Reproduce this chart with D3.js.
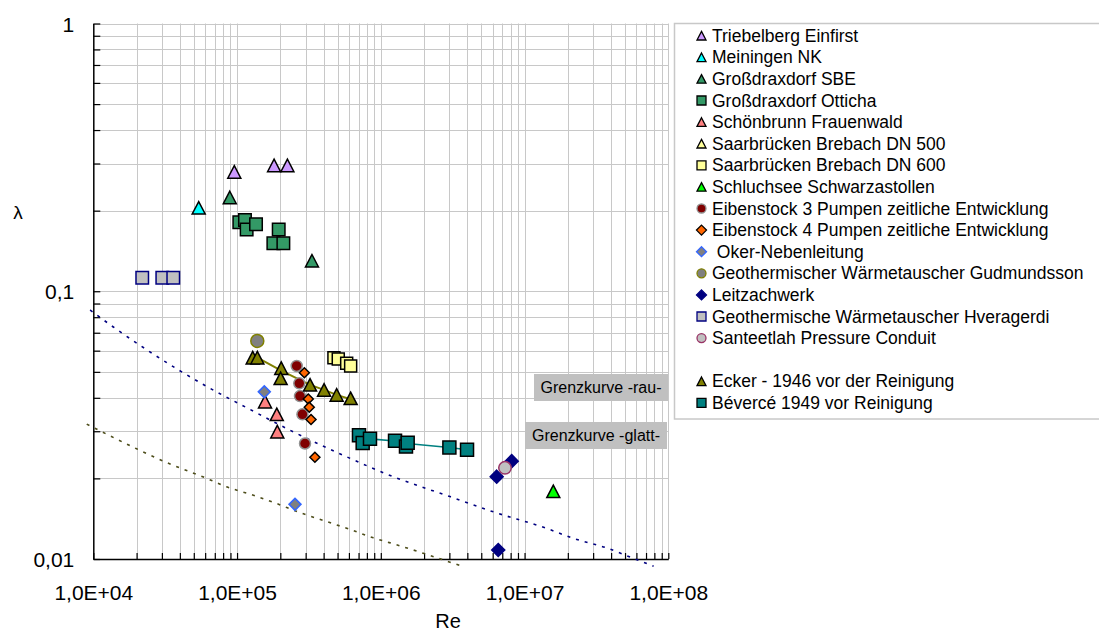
<!DOCTYPE html>
<html><head><meta charset="utf-8">
<script src="https://cdn.jsdelivr.net/npm/d3@7"></script>
<style>
body{margin:0;background:#fff}
svg{display:block;font-family:"Liberation Sans",Arial,sans-serif}
</style>
</head><body>
<svg id="chart" width="1099" height="634"></svg>
<script>
// ---------- data ----------
const xTickValues = [1e4, 1e5, 1e6, 1e7, 1e8];
const xTickLabels = ["1,0E+04", "1,0E+05", "1,0E+06", "1,0E+07", "1,0E+08"];
const yTickValues = [1, 0.1, 0.01];
const yTickLabels = ["1", "0,1", "0,01"];
const xTitle = "Re";
const yTitle = "λ";

const seriesNames = [
  "Triebelberg Einfirst", "Meiningen NK", "Großdraxdorf SBE", "Großdraxdorf Otticha",
  "Schönbrunn Frauenwald", "Saarbrücken Brebach DN 500", "Saarbrücken Brebach DN 600",
  "Schluchsee Schwarzastollen", "Eibenstock 3 Pumpen zeitliche Entwicklung",
  "Eibenstock 4 Pumpen zeitliche Entwicklung", " Oker-Nebenleitung",
  "Geothermischer Wärmetauscher Gudmundsson", "Leitzachwerk",
  "Geothermische Wärmetauscher Hveragerdi", "Santeetlah Pressure Conduit",
  "", "Ecker - 1946 vor der Reinigung", "Bévercé 1949 vor Reinigung"
];

// [Re, lambda]
const triebelberg = [[9.57e4, 0.279], [1.81e5, 0.295], [2.24e5, 0.295]];
const meiningen = [[5.41e4, 0.205]];
const sbe = [[8.9e4, 0.224], [3.32e5, 0.130]];
const otticha = [[1.037e5, 0.181], [1.135e5, 0.1845], [1.166e5, 0.170], [1.355e5, 0.178],
                 [1.789e5, 0.151], [1.949e5, 0.170], [2.10e5, 0.151]];
const schoenbrunn = [[1.565e5, 0.0387], [1.89e5, 0.0347], [1.905e5, 0.0299]];
const saar500 = [];
const saar600 = [[4.72e5, 0.0565], [5.06e5, 0.0558], [5.79e5, 0.0538], [6.17e5, 0.0526]];
const schluchsee = [[1.585e7, 0.0179]];
const eiben3 = [[2.6e5, 0.0526], [2.71e5, 0.0453], [2.74e5, 0.0406], [2.85e5, 0.0347], [2.97e5, 0.0270]];
const eiben4 = [[2.94e5, 0.0496], [3.13e5, 0.0396], [3.18e5, 0.0369], [3.27e5, 0.0332], [3.48e5, 0.0240]];
const oker = [[1.547e5, 0.0421], [2.53e5, 0.0160]];
const gudmundsson = [[1.383e5, 0.0652]];
const leitzach = [[6.4e6, 0.0203], [8.14e6, 0.0232], [6.56e6, 0.0108]];
const hveragerdi = [[2.19e4, 0.1124], [3.02e4, 0.1124], [3.60e4, 0.1124]];
const santeetlah = [[7.31e6, 0.0219]];
const ecker = [[1.285e5, 0.0565], [1.384e5, 0.0565], [2.03e5, 0.0516], [2.01e5, 0.0473],
               [3.22e5, 0.0447], [4.03e5, 0.0428], [4.93e5, 0.0410], [6.17e5, 0.0398]];
const eckerLine = [[1.384e5, 0.0565], [2.03e5, 0.0505], [3.22e5, 0.0447], [4.03e5, 0.0428],
                   [4.93e5, 0.0410], [6.17e5, 0.0395]];
const beverce = [[7.05e5, 0.0290], [7.48e5, 0.0271], [8.41e5, 0.0281], [1.256e6, 0.02765],
                 [1.497e6, 0.0263], [1.538e6, 0.0272], [3.0e6, 0.0261], [3.98e6, 0.0256]];
const beverceLine = [[8.41e5, 0.0281], [1.256e6, 0.0276], [1.52e6, 0.0270], [3.0e6, 0.0261], [3.98e6, 0.0256]];

// boundary curves
const curveBlue = [[9.5e3, 0.0851], [1.37e4, 0.0737], [1.82e4, 0.0663], [4.0e4, 0.0505],
  [6.49e4, 0.0434], [1.23e5, 0.0362], [2.33e5, 0.0303], [5.48e5, 0.0244], [1.22e6, 0.0203],
  [3.03e6, 0.0171], [6.07e6, 0.0150], [1.43e7, 0.0130], [2.18e7, 0.01195], [3.72e7, 0.0110],
  [5.71e7, 0.01006], [7.9e7, 0.0094]];
const curveOlive = [[9.0e3, 0.0319], [2.0e4, 0.0258], [3.07e4, 0.0232], [4.0e4, 0.0219],
  [6.15e4, 0.0200], [8.47e4, 0.0186], [1.3e5, 0.0173], [1.89e5, 0.0161], [2.74e5, 0.0149],
  [4.2e5, 0.0138], [6.1e5, 0.0129], [8.87e5, 0.0120], [1.36e6, 0.0112], [3.67e6, 0.0094]];

const boxLabels = ["Grenzkurve -rau-", "Grenzkurve -glatt-"];

// ---------- styles ----------
const seriesData = [triebelberg, meiningen, sbe, otticha, schoenbrunn, saar500, saar600, schluchsee,
  eiben3, eiben4, oker, gudmundsson, leitzach, hveragerdi, santeetlah, null, ecker, beverce];
const styles = [
  {shape: "tri", fill: "#CC99FF", stroke: "#000", size: 13},
  {shape: "tri", fill: "#00FFFF", stroke: "#000", size: 13},
  {shape: "tri", fill: "#339966", stroke: "#000", size: 13},
  {shape: "sq", fill: "#339966", stroke: "#000", size: 12.5},
  {shape: "tri", fill: "#FF8080", stroke: "#000", size: 13},
  {shape: "tri", fill: "#FFFF99", stroke: "#000", size: 13},
  {shape: "sq", fill: "#FFFF99", stroke: "#000", size: 12},
  {shape: "tri", fill: "#00FF00", stroke: "#000", size: 13},
  {shape: "circ", fill: "#800000", stroke: "#909090", size: 11},
  {shape: "dia", fill: "#FF6600", stroke: "#000", size: 10},
  {shape: "dia", fill: "#808080", stroke: "#3366FF", size: 12},
  {shape: "circ", fill: "#808080", stroke: "#808000", size: 13},
  {shape: "dia", fill: "#000080", stroke: "#000080", size: 13},
  {shape: "sq", fill: "#C0C0C0", stroke: "#000080", size: 12.5},
  {shape: "circ", fill: "#C0C0C0", stroke: "#993366", size: 12.5},
  null,
  {shape: "tri", fill: "#808000", stroke: "#000", size: 13},
  {shape: "sq", fill: "#008080", stroke: "#000", size: 13}
];

function markerPath(shape, s) {
  const h = s / 2;
  if (shape === "tri") { const hh = s * 0.48; return `M0,${-hh}L${h},${hh}L${-h},${hh}Z`; }
  if (shape === "sq") return `M${-h},${-h}H${h}V${h}H${-h}Z`;
  if (shape === "dia") return `M0,${-h}L${h},0L0,${h}L${-h},0Z`;
  return d3.arc()({innerRadius: 0, outerRadius: h, startAngle: 0, endAngle: 2 * Math.PI});
}

// ---------- chart ----------
const svg = d3.select("#chart");
const x = d3.scaleLog().domain([1e4, 1e8]).range([93.3, 668.3]);
const y = d3.scaleLog().domain([0.01, 1]).range([559, 23.5]);

const minorX = [], minorY = [];
for (let e = 4; e < 8; e++) for (let m = 1; m <= 9; m++) minorX.push(m * Math.pow(10, e));
minorX.push(1e8);
for (let e = -2; e < 0; e++) for (let m = 1; m <= 9; m++) minorY.push(m * Math.pow(10, e));
minorY.push(1);

// gridlines
const grid = svg.append("g").attr("stroke", "#c8c8c8").attr("stroke-width", 1);
grid.selectAll(".gx").data(minorX.filter(v => v > 1e4)).join("line")
  .attr("x1", d => Math.round(x(d)) + 0.5).attr("x2", d => Math.round(x(d)) + 0.5)
  .attr("y1", y(1)).attr("y2", y(0.01));
grid.selectAll(".gy").data(minorY.filter(v => v > 0.01)).join("line")
  .attr("y1", d => Math.round(y(d)) + 0.5).attr("y2", d => Math.round(y(d)) + 0.5)
  .attr("x1", x(1e4)).attr("x2", x(1e8));

// axes
const labelX = v => { const i = xTickValues.findIndex(t => Math.abs(Math.log10(t) - Math.log10(v)) < 1e-6); return i >= 0 ? xTickLabels[i] : ""; };
const labelY = v => { const i = yTickValues.findIndex(t => Math.abs(Math.log10(t) - Math.log10(v)) < 1e-6); return i >= 0 ? yTickLabels[i] : ""; };

const gx = svg.append("g").attr("transform", `translate(0,${y(0.01)})`)
  .call(d3.axisBottom(x).tickValues(minorX).tickFormat(labelX).tickSizeInner(-6).tickSizeOuter(0).tickPadding(26));
const gy = svg.append("g").attr("transform", `translate(${x(1e4)},0)`)
  .call(d3.axisLeft(y).tickValues(minorY).tickFormat(labelY).tickSizeInner(-7).tickSizeOuter(0).tickPadding(19));
[gx, gy].forEach(g => {
  g.select(".domain").attr("stroke", "#000").attr("stroke-width", 1.5);
  g.selectAll(".tick line").attr("stroke", "#000").attr("stroke-width", 1.2);
  g.selectAll(".tick text").attr("fill", "#000").attr("font-family", '"Liberation Sans",Arial,sans-serif');
});
gx.selectAll(".tick text").attr("font-size", 21);
gy.selectAll(".tick text").attr("font-size", 21).attr("dy", "0.36em");

// axis titles
svg.append("text").attr("x", 448).attr("y", 628).attr("text-anchor", "middle")
  .attr("font-size", 20).text(xTitle);
svg.append("text").attr("x", 18).attr("y", 219).attr("text-anchor", "middle")
  .attr("font-size", 19).text(yTitle);

// boundary curves
const line = d3.line().x(d => x(d[0])).y(d => y(d[1])).curve(d3.curveMonotoneX);
svg.append("path").attr("d", line(curveBlue)).attr("fill", "none")
  .attr("stroke", "#000080").attr("stroke-width", 1.6).attr("stroke-dasharray", "3,6");
svg.append("path").attr("d", line(curveOlive)).attr("fill", "none")
  .attr("stroke", "#4d4d1a").attr("stroke-width", 1.6).attr("stroke-dasharray", "3,6");

// text boxes
const boxes = [
  {t: boxLabels[0], x0: 534, y0: 374, w: 134, h: 27},
  {t: boxLabels[1], x0: 525, y0: 422, w: 142, h: 27}
];
boxes.forEach(b => {
  svg.append("rect").attr("x", b.x0).attr("y", b.y0).attr("width", b.w).attr("height", b.h).attr("fill", "#c0c0c0");
  svg.append("text").attr("x", b.x0 + b.w / 2).attr("y", b.y0 + b.h / 2 + 5.5)
    .attr("text-anchor", "middle").attr("font-size", 16).text(b.t);
});

// trend lines
const straight = d3.line().x(d => x(d[0])).y(d => y(d[1]));
svg.append("path").attr("d", straight(eckerLine)).attr("fill", "none").attr("stroke", "#808000").attr("stroke-width", 2);
svg.append("path").attr("d", straight(beverceLine)).attr("fill", "none").attr("stroke", "#008080").attr("stroke-width", 1.6);

// markers
seriesData.forEach((data, i) => {
  if (!data || !styles[i]) return;
  const st = styles[i];
  svg.append("g").selectAll("path").data(data).join("path")
    .attr("transform", d => `translate(${x(d[0])},${y(d[1])})`)
    .attr("d", markerPath(st.shape, st.size))
    .attr("fill", st.fill).attr("stroke", st.stroke).attr("stroke-width", 1.5);
});

// legend
const lg = svg.append("g");
lg.append("rect").attr("x", 674.5).attr("y", 23.5).attr("width", 460).attr("height", 395.5)
  .attr("fill", "#fff").attr("stroke", "#c8c8c8").attr("stroke-width", 1.5);
seriesNames.forEach((name, i) => {
  const cy = 35.7 + i * 21.6;
  const st = styles[i];
  if (!st) return;
  lg.append("path").attr("transform", `translate(701.5,${cy})`)
    .attr("d", markerPath(st.shape, st.shape === "dia" ? 10 : 9))
    .attr("fill", st.fill).attr("stroke", st.stroke).attr("stroke-width", 1.3);
  lg.append("text").attr("x", 712).attr("y", cy + 6).attr("font-size", 17.5).attr("fill", "#000")
    .attr("xml:space", "preserve").style("white-space", "pre").text(name);
});
</script>
</body></html>
